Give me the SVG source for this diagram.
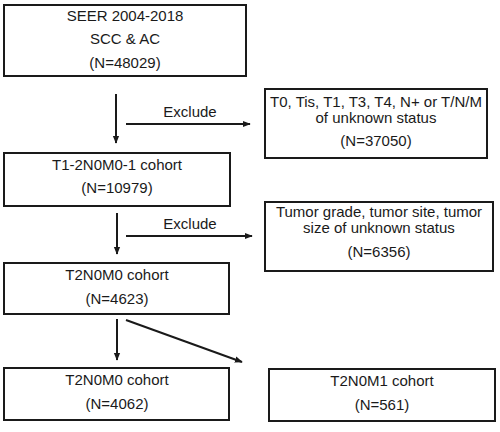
<svg xmlns="http://www.w3.org/2000/svg" width="500" height="432" viewBox="0 0 500 432">
<defs>
<style>
.box{fill:#fff;stroke:#1a1a1a;stroke-width:2}
text{font-family:"Liberation Sans",Arial,sans-serif;font-size:15px;fill:#1a1a1a;text-anchor:middle}
.c{stroke:#1a1a1a;stroke-width:2;fill:none;marker-end:url(#ah)}
</style>
<marker id="ah" viewBox="0 0 10 10" refX="9" refY="5" markerWidth="4" markerHeight="4" orient="auto" markerUnits="strokeWidth">
<path d="M0,1 L10,5 L0,9 z" fill="#1a1a1a"/>
</marker>
</defs>
<rect width="500" height="432" fill="#fff"/>
<g id="n1"><rect class="box" x="4" y="5" width="242" height="71"/>
<text x="125" y="21">SEER 2004-2018</text><text x="125" y="44">SCC &amp; AC</text><text x="125" y="68">(N=48029)</text></g>
<g id="n2"><rect class="box" x="265" y="89" width="222" height="69"/>
<text x="376" y="107">T0, Tis, T1, T3, T4, N+ or T/N/M</text><text x="376" y="123">of unknown status</text><text x="376" y="146">(N=37050)</text></g>
<g id="n3"><rect class="box" x="4" y="153" width="226" height="53"/>
<text x="117" y="170">T1-2N0M0-1 cohort</text><text x="117" y="193">(N=10979)</text></g>
<g id="n4"><rect class="box" x="265" y="202" width="228" height="69"/>
<text x="379" y="217">Tumor grade, tumor site, tumor</text><text x="379" y="233">size of unknown status</text><text x="379" y="257">(N=6356)</text></g>
<g id="n5"><rect class="box" x="4" y="263" width="225" height="51"/>
<text x="117" y="280">T2N0M0 cohort</text><text x="117" y="304">(N=4623)</text></g>
<g id="n6"><rect class="box" x="4" y="368" width="225" height="52"/>
<text x="117" y="385">T2N0M0 cohort</text><text x="117" y="409">(N=4062)</text></g>
<g id="n7"><rect class="box" x="269" y="369" width="226" height="52"/>
<text x="382" y="386">T2N0M1 cohort</text><text x="382" y="410">(N=561)</text></g>
<g id="connectors">
<line class="c" x1="116" y1="94" x2="116" y2="143"/>
<line class="c" x1="126" y1="124" x2="250" y2="124"/>
<text x="190" y="117">Exclude</text>
<line class="c" x1="117" y1="213" x2="117" y2="254"/>
<line class="c" x1="126" y1="236" x2="252" y2="236"/>
<text x="190" y="229">Exclude</text>
<line class="c" x1="117" y1="319" x2="117" y2="360"/>
<line class="c" x1="126" y1="320" x2="242" y2="362"/>
</g>
</svg>
